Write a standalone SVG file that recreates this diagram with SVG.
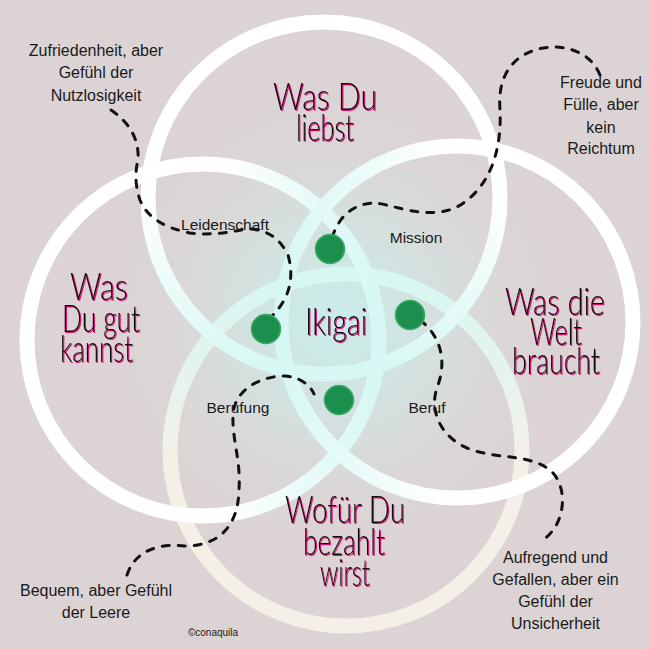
<svg xmlns="http://www.w3.org/2000/svg" width="649" height="649" viewBox="0 0 649 649">
<defs>
<radialGradient id="glow" cx="335" cy="320" r="230" gradientUnits="userSpaceOnUse">
<stop offset="0" stop-color="#c8eeea" stop-opacity="1"/>
<stop offset="0.45" stop-color="#d2e3e1" stop-opacity="0.8"/>
<stop offset="1" stop-color="#dcd4d4" stop-opacity="0"/>
</radialGradient>
<linearGradient id="gTop" x1="324" y1="22" x2="324" y2="374" gradientUnits="userSpaceOnUse">
<stop offset="0.5" stop-color="#ffffff"/><stop offset="1" stop-color="#d6f7f3"/>
</linearGradient>
<linearGradient id="gLeft" x1="27" y1="340" x2="379" y2="340" gradientUnits="userSpaceOnUse">
<stop offset="0.55" stop-color="#ffffff"/><stop offset="1" stop-color="#d6f7f3"/>
</linearGradient>
<linearGradient id="gRight" x1="633" y1="322" x2="281" y2="322" gradientUnits="userSpaceOnUse">
<stop offset="0.55" stop-color="#ffffff"/><stop offset="1" stop-color="#d6f7f3"/>
</linearGradient>
<linearGradient id="gBot" x1="346" y1="626" x2="346" y2="274" gradientUnits="userSpaceOnUse">
<stop offset="0.45" stop-color="#f4f0e7"/><stop offset="1" stop-color="#d6f7f3"/>
</linearGradient>
<filter id="pink" x="-10%" y="-20%" width="120%" height="140%">
<feFlood flood-color="#e0147c" result="c"/>
<feComposite in="c" in2="SourceAlpha" operator="in" result="s"/>
<feOffset in="s" dx="1.1" dy="0.8" result="o"/>
<feMerge><feMergeNode in="o"/><feMergeNode in="SourceGraphic"/></feMerge>
</filter>
<style>
.ring{fill:none;stroke-width:15}
.lbl{font-family:"Liberation Sans",Arial,sans-serif;font-size:16px;fill:#1a1a1a;text-anchor:middle}
.sm{font-size:15.5px}
.hw{font-family:Lato,"Open Sans",sans-serif;font-weight:300;font-size:37px;fill:#0d0d0d;filter:url(#pink)}
.dash{fill:none;stroke:#111;stroke-width:3;stroke-dasharray:7 9;stroke-linecap:round}
.dot{fill:#1b8f4e;stroke:#3aa867;stroke-width:1.5}
</style>
</defs>
<rect width="649" height="649" fill="#dcd4d4"/>
<circle cx="335" cy="320" r="230" fill="url(#glow)"/>

<g id="rings">
<circle id="ring-bottom" class="ring" cx="346" cy="450" r="176" stroke="url(#gBot)"/>
<circle id="ring-top" class="ring" cx="324" cy="198" r="176" stroke="url(#gTop)"/>
<circle id="ring-left" class="ring" cx="203" cy="340" r="176" stroke="url(#gLeft)"/>
<circle id="ring-right" class="ring" cx="457" cy="322" r="176" stroke="url(#gRight)"/>
</g>

<g id="connectors">
<path class="dash" d="M111,110 Q140,130 138,160 Q133,180 140,200 Q150,225 190,233 Q215,236 245,229 Q275,228 288,255 Q298,290 272,316"/>
<path class="dash" d="M600,75 C590,50 560,42 535,50 C505,60 498,85 500,110 C502,150 490,190 455,208 C425,220 395,205 375,203 C355,203 340,215 333,235"/>
<path class="dash" d="M127,575 C135,550 160,543 185,546 C215,546 238,530 239,490 C241,460 232,440 233,415 C234,390 260,376 285,376 C300,377 310,385 314,394"/>
<path class="dash" d="M420,320 C440,335 447,360 438,385 C428,410 440,440 475,451 C505,459 530,455 550,470 C568,485 568,525 540,542"/>
</g>

<g id="dots">
<circle id="dot-top" class="dot" cx="330" cy="249" r="14.5"/>
<circle id="dot-left" class="dot" cx="266" cy="329" r="14.5"/>
<circle id="dot-right" class="dot" cx="410" cy="315" r="14.5"/>
<circle id="dot-bottom" class="dot" cx="339" cy="400" r="14.5"/>
</g>

<g id="node-liebst" class="hw">
<text x="273" y="110" textLength="104" lengthAdjust="spacingAndGlyphs">Was Du</text>
<text x="296" y="141" textLength="58" lengthAdjust="spacingAndGlyphs">liebst</text>
</g>

<g id="node-gut" class="hw">
<text x="70" y="300" textLength="58" lengthAdjust="spacingAndGlyphs">Was</text>
<text x="62" y="332" textLength="78" lengthAdjust="spacingAndGlyphs">Du gut</text>
<text x="60" y="362" textLength="73" lengthAdjust="spacingAndGlyphs">kannst</text>
</g>

<g id="node-welt" class="hw">
<text x="505" y="315" textLength="100" lengthAdjust="spacingAndGlyphs">Was die</text>
<text x="530" y="345" textLength="52" lengthAdjust="spacingAndGlyphs">Welt</text>
<text x="512" y="374" textLength="88" lengthAdjust="spacingAndGlyphs">braucht</text>
</g>

<g id="node-bezahlt" class="hw">
<text x="285" y="523" textLength="120" lengthAdjust="spacingAndGlyphs">Wofür Du</text>
<text x="303" y="555" textLength="82" lengthAdjust="spacingAndGlyphs">bezahlt</text>
<text x="320" y="586" textLength="50" lengthAdjust="spacingAndGlyphs">wirst</text>
</g>

<g id="node-ikigai" class="hw">
<text x="305" y="335" textLength="62" lengthAdjust="spacingAndGlyphs">Ikigai</text>
</g>

<g id="node-leidenschaft"><text class="lbl sm" x="225" y="230">Leidenschaft</text></g>
<g id="node-mission"><text class="lbl sm" x="416" y="243">Mission</text></g>
<g id="node-berufung"><text class="lbl sm" x="238" y="412.5">Berufung</text></g>
<g id="node-beruf"><text class="lbl sm" x="427" y="412.5">Beruf</text></g>

<g id="note-zufriedenheit">
<text class="lbl" x="96" y="56">Zufriedenheit, aber</text>
<text class="lbl" x="96" y="78">Gefühl der</text>
<text class="lbl" x="96" y="100.5">Nutzlosigkeit</text>
</g>
<g id="note-freude">
<text class="lbl" x="601" y="88">Freude und</text>
<text class="lbl" x="601" y="110">Fülle, aber</text>
<text class="lbl" x="601" y="132.5">kein</text>
<text class="lbl" x="601" y="154">Reichtum</text>
</g>
<g id="note-bequem">
<text class="lbl" x="96" y="596">Bequem, aber Gefühl</text>
<text class="lbl" x="96" y="618">der Leere</text>
</g>
<g id="note-aufregend">
<text class="lbl" x="555.5" y="562.5">Aufregend und</text>
<text class="lbl" x="555.5" y="584.5">Gefallen, aber ein</text>
<text class="lbl" x="555.5" y="607">Gefühl der</text>
<text class="lbl" x="555.5" y="629">Unsicherheit</text>
</g>
<g id="copyright"><text class="lbl" x="213" y="636" style="font-size:10px">©conaquila</text></g>
</svg>
